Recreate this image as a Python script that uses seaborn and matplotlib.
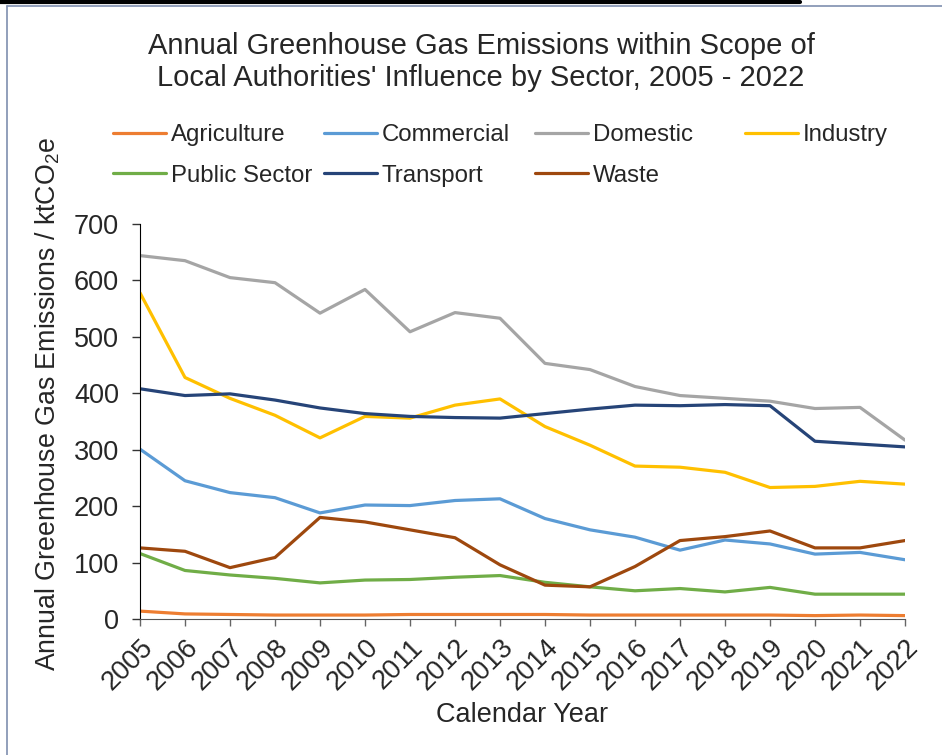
import matplotlib
matplotlib.use("Agg")
import matplotlib.pyplot as plt
from matplotlib.lines import Line2D
import pandas as pd
import seaborn as sns

# Annual emissions by sector, ktCO2e
YEARS = list(range(2005, 2023))
AGRICULTURE = [14, 9, 8, 7, 7, 7, 8, 8, 8, 8, 7, 7, 7, 7, 7, 6, 7, 6]
COMMERCIAL = [301, 245, 224, 215, 188, 202, 201, 210, 213, 178, 158, 145, 122, 140, 133, 115, 118, 105]
DOMESTIC = [644, 635, 605, 596, 542, 584, 509, 543, 533, 453, 442, 412, 396, 391, 386, 373, 375, 317]
INDUSTRY = [578, 428, 391, 361, 321, 359, 356, 379, 390, 341, 308, 271, 269, 260, 233, 235, 244, 239]
PUBLIC_SECTOR = [116, 86, 78, 72, 64, 69, 70, 74, 77, 65, 57, 50, 54, 48, 56, 44, 44, 44]
TRANSPORT = [408, 396, 399, 388, 374, 364, 359, 357, 356, 364, 372, 379, 378, 380, 378, 315, 310, 305]
WASTE = [126, 120, 91, 109, 180, 172, 158, 144, 96, 60, 57, 93, 139, 146, 156, 126, 126, 139]

SECTORS = ["Agriculture", "Commercial", "Domestic", "Industry",
           "Public Sector", "Transport", "Waste"]
SERIES = [AGRICULTURE, COMMERCIAL, DOMESTIC, INDUSTRY, PUBLIC_SECTOR, TRANSPORT, WASTE]
COLORS = {
    "Agriculture": "#ED7D31",
    "Commercial": "#5B9BD5",
    "Domestic": "#A5A5A5",
    "Industry": "#FFC000",
    "Public Sector": "#70AD47",
    "Transport": "#264478",
    "Waste": "#9E480E",
}

df = pd.DataFrame([
    {"Year": yr, "Sector": s, "Emissions": v}
    for s, vals in zip(SECTORS, SERIES)
    for yr, v in zip(YEARS, vals)
])

sns.set_style("ticks")
plt.rcParams["font.family"] = ["Liberation Sans", "DejaVu Sans"]
plt.rcParams["mathtext.fontset"] = "custom"
plt.rcParams["mathtext.rm"] = "Liberation Sans"
plt.rcParams["mathtext.default"] = "regular"

fig = plt.figure(figsize=(9.42, 7.55), dpi=100)
ax = fig.add_axes([140 / 942, 1 - 619 / 755, 765 / 942, 395 / 755])

sns.lineplot(data=df, x="Year", y="Emissions", hue="Sector", hue_order=SECTORS,
             palette=COLORS, linewidth=2.3, ax=ax, legend=True)
ax.get_legend().remove()

# Excel-style legend: 4 equal-width columns, filled row by row
col_x = [113, 324, 535, 745]
for c, x in enumerate(col_x):
    names = SECTORS[c::4]
    hs = [Line2D([], [], color=COLORS[n], linewidth=2.3) for n in names]
    fig.legend(hs, names, loc="upper left", bbox_to_anchor=(x / 942, 1 - 124 / 755),
               frameon=False, fontsize=17.3, handlelength=2.2, handletextpad=0.2,
               labelspacing=0.78, borderpad=0, borderaxespad=0)

ax.set_xlim(2005, 2022)
ax.set_ylim(0, 700)
ax.set_xticks(YEARS)
ax.set_xticklabels([str(y) for y in YEARS], rotation=45, ha="right",
                   rotation_mode="anchor", fontsize=19.5)
ax.set_yticks(range(0, 701, 100))
ax.tick_params(axis="y", labelsize=19.5, length=6, width=1, pad=9, color="#333333")
ax.tick_params(axis="x", length=5, width=1, pad=6, color="#666666")

sns.despine(ax=ax)
ax.spines["left"].set_color("#000000")
ax.spines["bottom"].set_color("#555555")

ax.set_xlabel("Calendar Year", fontsize=19.5, labelpad=5)
ax.set_ylabel("Annual Greenhouse Gas Emissions / ktCO$_2$e", fontsize=19.3)
ax.yaxis.set_label_coords(-0.102, 0.544)

fig.text(481 / 942, 1 - 62 / 755,
         "Annual Greenhouse Gas Emissions within Scope of\n"
         "Local Authorities' Influence by Sector, 2005 - 2022",
         ha="center", va="center", fontsize=21, linespacing=1.22)

# chart frame and page rule
fig.add_artist(Line2D([7 / 942, 7 / 942], [0, 1 - 5.5 / 755], transform=fig.transFigure,
                      color="#7F8FAF", linewidth=1.2))
fig.add_artist(Line2D([7 / 942, 1], [1 - 5.5 / 755, 1 - 5.5 / 755], transform=fig.transFigure,
                      color="#7F8FAF", linewidth=1.2))
fig.add_artist(Line2D([0, 800 / 942], [1 - 1.5 / 755, 1 - 1.5 / 755], transform=fig.transFigure,
                      color="#000000", linewidth=3))

fig.savefig("out.png", dpi=100)
plt.close(fig)
